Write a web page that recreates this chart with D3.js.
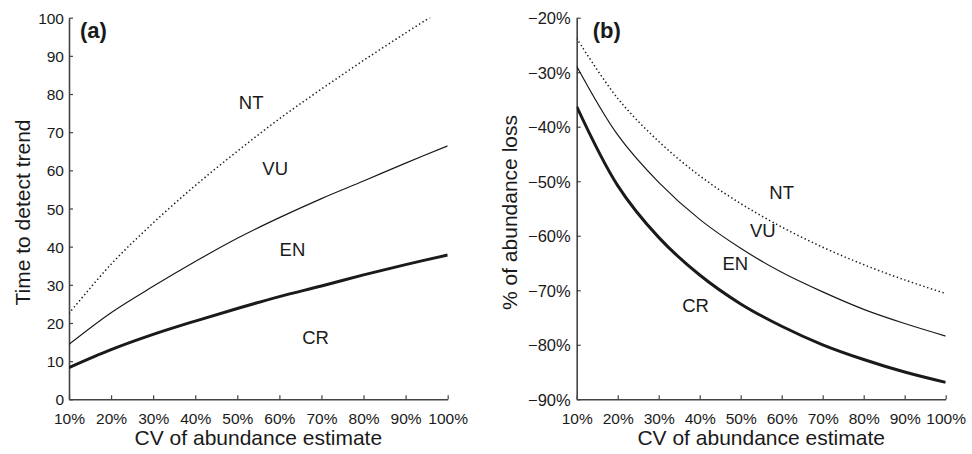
<!DOCTYPE html>
<html>
<head>
<meta charset="utf-8">
<script src="https://cdn.jsdelivr.net/npm/d3@7"></script>
<style>
  body { margin: 0; background: #fff; }
  svg { display: block; font-family: "Liberation Sans", Arial, sans-serif; }
</style>
</head>
<body>
<svg id="chart" width="972" height="454"></svg>
<script>
// ---- data ----
const cvValues = [10, 20, 30, 40, 50, 60, 70, 80, 90, 100];          // CV of abundance estimate (%)
const xTicks = [10, 20, 30, 40, 50, 60, 70, 80, 90, 100];
const timeTicks = [0, 10, 20, 30, 40, 50, 60, 70, 80, 90, 100];
const lossTicks = [-90, -80, -70, -60, -50, -40, -30, -20];

// panel (a): time to detect trend (years)
const timeCR = [8.3, 13.0, 17.0, 20.5, 23.8, 26.9, 29.7, 32.6, 35.3, 37.8];   // CR / EN boundary
const timeEN = [14.4, 22.7, 29.6, 36.1, 42.2, 47.6, 52.6, 57.2, 61.9, 66.4];  // EN / VU boundary
const timeVU = [22.5, 35.4, 46.2, 56.0, 65.0, 73.5, 81.3, 88.8, 96.0, 103.0]; // VU / NT boundary

// panel (b): % of abundance loss
const lossCR = [-36.3, -50.8, -60.3, -67.2, -72.5, -76.6, -80.0, -82.7, -85.0, -86.9];
const lossEN = [-28.9, -41.5, -50.2, -57.0, -62.3, -66.7, -70.3, -73.5, -76.1, -78.4];
const lossVU = [-23.8, -34.8, -42.7, -49.0, -54.1, -58.4, -62.1, -65.3, -68.1, -70.6];

const labelsA = [
  {t: "NT", cv: 53.3, v: 76.0},
  {t: "VU", cv: 59.0, v: 58.7},
  {t: "EN", cv: 63.1, v: 37.5},
  {t: "CR", cv: 68.6, v: 14.5}
];
const labelsB = [
  {t: "NT", cv: 60.0, v: -53.2},
  {t: "VU", cv: 55.4, v: -60.3},
  {t: "EN", cv: 48.7, v: -66.3},
  {t: "CR", cv: 39.0, v: -73.9}
];

// ---- layout ----
const svg = d3.select("#chart");
const ink = "#1a1a1a";
const axisCol = "#444";
const plotTop = 17.7, plotBottom = 399.3;

const styles = [
  {w: 3.0, dash: null},
  {w: 1.2, dash: null},
  {w: 1.5, dash: "1.4,2.6"}
];

function panel(opts) {
  const g = svg.append("g");
  const x = d3.scaleLinear().domain([10, 100]).range([opts.left, opts.right]);
  const y = d3.scaleLinear().domain(opts.yDomain).range([plotBottom, plotTop]);

  const clipId = "clip" + opts.id;
  svg.append("clipPath").attr("id", clipId)
    .append("rect").attr("x", opts.left).attr("y", plotTop)
    .attr("width", opts.right - opts.left).attr("height", plotBottom - plotTop);

  // x axis
  const xa = g.append("g").attr("transform", `translate(0,${plotBottom})`)
    .call(d3.axisBottom(x).tickValues(xTicks).tickSize(-4).tickSizeOuter(0)
      .tickFormat(d => d + "%"));
  xa.selectAll("text").attr("y", 0).attr("dy", 24.5)
    .style("font-size", "15.5px").attr("fill", ink);

  // y axis
  const ya = g.append("g").attr("transform", `translate(${opts.left},0)`)
    .call(d3.axisLeft(y).tickValues(opts.yTicks).tickSize(-4).tickSizeOuter(0)
      .tickFormat(opts.yFormat));
  ya.selectAll("text").attr("x", -opts.labelGap).attr("dy", "0.36em")
    .style("font-size", opts.yFont + "px").attr("fill", ink);

  [xa, ya].forEach(a => {
    a.select(".domain").attr("stroke", axisCol).attr("stroke-width", 1.6);
    a.selectAll(".tick line").attr("stroke", axisCol).attr("stroke-width", 1.2);
  });

  // lines
  const line = d3.line().x((d, i) => x(cvValues[i])).y(d => y(d)).curve(d3.curveCatmullRom.alpha(0.5));
  opts.series.forEach((s, i) => {
    g.append("path").datum(s)
      .attr("clip-path", `url(#${clipId})`)
      .attr("fill", "none").attr("stroke", ink)
      .attr("stroke-width", styles[i].w)
      .attr("stroke-dasharray", styles[i].dash)
      .attr("d", line);
  });

  // category labels
  opts.labels.forEach(l => {
    g.append("text").attr("x", x(l.cv)).attr("y", y(l.v))
      .attr("text-anchor", "middle").style("font-size", "18.5px")
      .attr("fill", ink).text(l.t);
  });

  // panel letter
  g.append("text").attr("x", opts.left + opts.letterDx).attr("y", 38)
    .style("font-size", "22px").style("font-weight", "bold")
    .attr("fill", ink).text(opts.letter);

  // x title
  g.append("text").attr("x", (opts.left + opts.right) / 2).attr("y", 445)
    .attr("text-anchor", "middle").style("font-size", "21px")
    .attr("fill", ink).text("CV of abundance estimate");

  // y title
  g.append("text")
    .attr("transform", `translate(${opts.yTitleX},${(plotTop + plotBottom) / 2 + 4}) rotate(-90)`)
    .attr("text-anchor", "middle").style("font-size", "21px")
    .attr("fill", ink).text(opts.yTitle);
}

panel({
  id: "a", left: 69, right: 447.7,
  yDomain: [0, 100], yTicks: timeTicks, yFormat: d => d, yFont: 15.5, labelGap: 5,
  series: [timeCR, timeEN, timeVU], labels: labelsA,
  letter: "(a)", letterDx: 11, yTitle: "Time to detect trend", yTitleX: 30
});

panel({
  id: "b", left: 576.7, right: 945.7,
  yDomain: [-90, -20], yTicks: lossTicks, yFormat: d => "\u2212" + Math.abs(d) + "%", yFont: 16.5, labelGap: 6,
  series: [lossCR, lossEN, lossVU], labels: labelsB,
  letter: "(b)", letterDx: 16, yTitle: "% of abundance loss", yTitleX: 517
});
</script>
</body>
</html>
